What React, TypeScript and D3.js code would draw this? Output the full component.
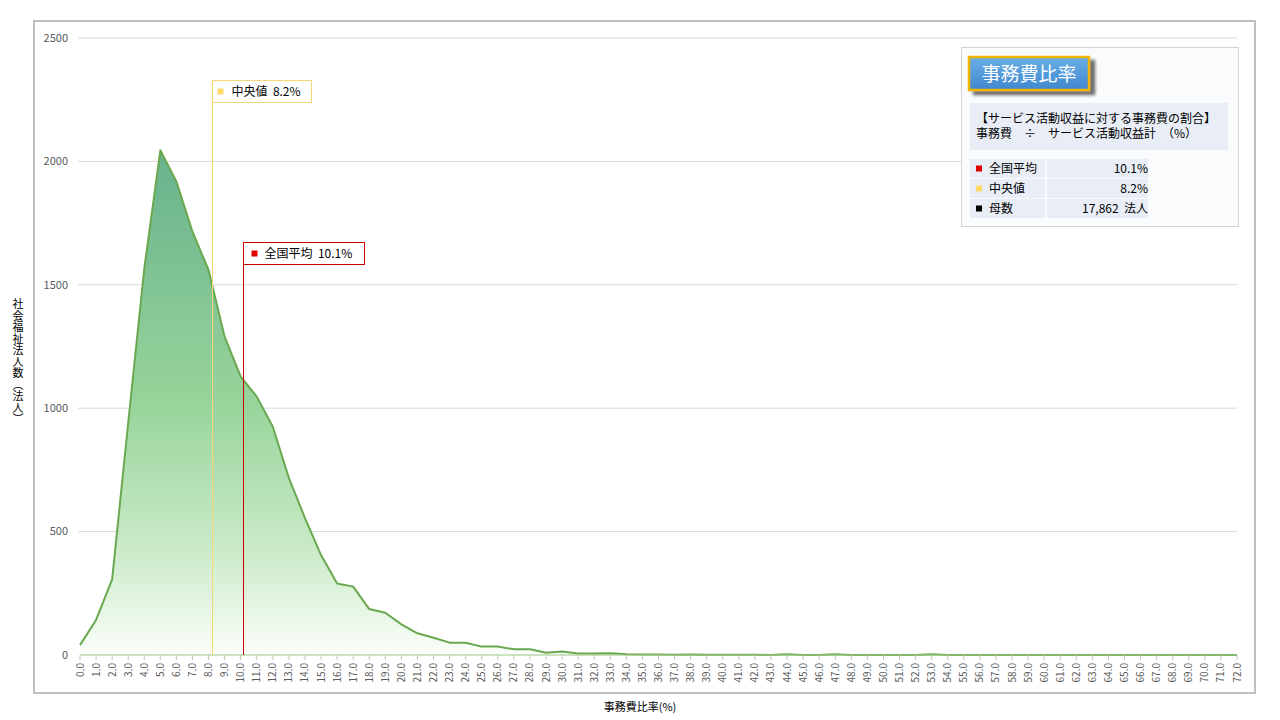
import React from "react";
import * as d3 from "d3";

const categories: string[] = [
  "0.0","1.0","2.0","3.0","4.0","5.0","6.0","7.0","8.0","9.0",
  "10.0","11.0","12.0","13.0","14.0","15.0","16.0","17.0","18.0","19.0",
  "20.0","21.0","22.0","23.0","24.0","25.0","26.0","27.0","28.0","29.0",
  "30.0","31.0","32.0","33.0","34.0","35.0","36.0","37.0","38.0","39.0",
  "40.0","41.0","42.0","43.0","44.0","45.0","46.0","47.0","48.0","49.0",
  "50.0","51.0","52.0","53.0","54.0","55.0","56.0","57.0","58.0","59.0",
  "60.0","61.0","62.0","63.0","64.0","65.0","66.0","67.0","68.0","69.0",
  "70.0","71.0","72.0",
];

const counts: number[] = [
  40, 142, 306, 940, 1565, 2045, 1918, 1715, 1560, 1290,
  1128, 1047, 925, 717, 555, 405, 290, 277, 186, 171,
  124, 88, 70, 50, 50, 34, 34, 23, 23, 9,
  14, 6, 6, 7, 3, 2, 2, 1, 2, 1,
  1, 1, 1, 0, 3, 0, 0, 3, 0, 0,
  0, 0, 0, 3, 0, 0, 0, 0, 0, 0,
  0, 0, 0, 0, 0, 0, 0, 0, 0, 0,
  0, 0, 0,
];

const yTicks: number[] = [0, 500, 1000, 1500, 2000, 2500];

const meanValue = 10.1;
const medianValue = 8.2;
const populationLabel = "17,862  法人";

const chartTitle = "事務費比率";
const descLines: string[] = ["【サービス活動収益に対する事務費の割合】", "事務費　÷　サービス活動収益計　（%）"];
const legendRows: { label: string; value: string; color: string }[] = [
  { label: "全国平均", value: "10.1%", color: "#e00000" },
  { label: "中央値", value: "8.2%", color: "#ffd966" },
  { label: "母数", value: populationLabel, color: "#000000" },
];

const FONT = "'Noto Sans CJK JP', 'Noto Sans', sans-serif";
const PRE = { whiteSpace: "pre" } as React.CSSProperties;

export default function App() {
  const x = d3.scalePoint<string>().domain(categories).range([80, 1237]);
  const y = d3.scaleLinear().domain([0, 2500]).range([655, 38]);
  const xNum = d3.scaleLinear().domain([0, 72]).range([80, 1237]);

  const pts = categories.map((c, i) => ({ c, v: counts[i] }));
  const area = d3
    .area<{ c: string; v: number }>()
    .x((d) => x(d.c) as number)
    .y0(y(0))
    .y1((d) => y(d.v));
  const line = d3
    .line<{ c: string; v: number }>()
    .x((d) => x(d.c) as number)
    .y((d) => y(d.v));

  const xMed = Math.round(xNum(medianValue)) + 0.5;
  const xMean = Math.round(xNum(meanValue)) + 1.5;
  const peak = d3.max(counts) as number;

  return (
    <svg
      width={1280}
      height={720}
      style={{ position: "absolute", left: 0, top: 0, background: "#fff" }}
      fontFamily={FONT}
    >
      <defs>
        <linearGradient id="areaGrad" gradientUnits="userSpaceOnUse" x1={0} x2={0} y1={y(peak)} y2={y(0)}>
          <stop offset="0" stopColor="#68b28c" />
          <stop offset="0.5" stopColor="#97d49b" />
          <stop offset="0.8" stopColor="#cdebca" />
          <stop offset="1" stopColor="#fbfefa" />
        </linearGradient>
        <linearGradient id="btnGrad" x1="0" x2="0" y1="0" y2="1">
          <stop offset="0" stopColor="#6aaee6" />
          <stop offset="1" stopColor="#3f87cf" />
        </linearGradient>
        <filter id="btnShadow" x="-20%" y="-20%" width="150%" height="160%">
          <feDropShadow dx="5" dy="4" stdDeviation="1.5" floodColor="#333" floodOpacity="0.7" />
        </filter>
      </defs>

      {/* outer frame */}
      <rect x={34} y={21} width={1221} height={672} fill="#fff" stroke="#bfbfbf" strokeWidth={2} />

      {/* grid + y labels */}
      {yTicks.map((t) => (
        <g key={t}>
          {t > 0 && <line x1={78} x2={1237} y1={y(t)} y2={y(t)} stroke="#d9d9d9" strokeWidth={1} />}
          <text x={68} y={y(t)} dy="0.35em" textAnchor="end" fontSize={11} fill="#595959">
            {t}
          </text>
        </g>
      ))}

      {/* area + line */}
      <path d={area(pts) as string} fill="url(#areaGrad)" />
      <path d={line(pts) as string} fill="none" stroke="#6aa84f" strokeWidth={2} strokeLinejoin="round" />

      {/* x axis */}
      <line x1={80} x2={1237} y1={655} y2={655} stroke="#9cc583" strokeWidth={1} />
      {categories.map((c) => (
        <g key={c}>
          <line x1={x(c)} x2={x(c)} y1={655} y2={660} stroke="#b9cfa8" strokeWidth={1} />
          <text
            transform={`translate(${x(c)},663) rotate(-90)`}
            textAnchor="end"
            dy="0.35em"
            fontSize={10}
            fill="#595959"
          >
            {c}
          </text>
        </g>
      ))}

      {/* axis titles */}
      <text x={640} y={711} textAnchor="middle" fontSize={11} fill="#000">
        事務費比率(%)
      </text>
      <text
        x={18}
        y={362}
        textAnchor="middle"
        fontSize={11}
        fill="#000"
        letterSpacing={0.5}
        style={{ writingMode: "vertical-rl" } as React.CSSProperties}
      >
        社会福祉法人数（法人）
      </text>

      {/* median marker */}
      <line x1={xMed} x2={xMed} y1={80} y2={655} stroke="#f5d77a" strokeWidth={1} />
      <rect x={xMed} y={80.5} width={99} height={22} fill="#fff" stroke="#f5d77a" strokeWidth={1} />
      <rect x={xMed + 5} y={88.5} width={6} height={6} fill="#ffd966" />
      <text x={xMed + 19} y={92} dy="0.35em" fontSize={12} fill="#000" style={PRE}>
        {"中央値  8.2%"}
      </text>

      {/* mean marker */}
      <line x1={xMean} x2={xMean} y1={242} y2={655} stroke="#cc0000" strokeWidth={1} />
      <rect x={xMean} y={242.5} width={121} height={22} fill="#fff" stroke="#cc0000" strokeWidth={1} />
      <rect x={xMean + 8} y={250.5} width={6} height={6} fill="#e00000" />
      <text x={xMean + 21} y={254} dy="0.35em" fontSize={12} fill="#000" style={PRE}>
        {"全国平均  10.1%"}
      </text>

      {/* legend panel */}
      <rect x={961.5} y={47.5} width={277} height={179} fill="#fafbfc" stroke="#d4d4d4" strokeWidth={1} />
      <g filter="url(#btnShadow)">
        <rect x={969} y={57} width={120} height={33} fill="url(#btnGrad)" stroke="#f2b600" strokeWidth={2.5} />
      </g>
      <text x={1029} y={74} dy="0.35em" textAnchor="middle" fontSize={19} fill="#fff">
        {chartTitle}
      </text>

      <rect x={970} y={103} width={258} height={47} fill="#e8edf6" />
      {descLines.map((l, i) => (
        <text key={i} x={976} y={119 + i * 15} dy="0.35em" fontSize={12} fill="#000" style={PRE}>
          {l}
        </text>
      ))}

      {legendRows.map((r, i) => {
        const ry = 159 + i * 20;
        return (
          <g key={r.label}>
            <rect x={970} y={ry} width={75} height={19} fill="#e9eef6" />
            <rect x={1047} y={ry} width={101} height={19} fill="#e9eef6" />
            <rect x={976} y={ry + 6.5} width={6} height={6} fill={r.color} />
            <text x={989} y={ry + 9.5} dy="0.35em" fontSize={12} fill="#000">
              {r.label}
            </text>
            <text x={1148} y={ry + 9.5} dy="0.35em" fontSize={12} fill="#000" textAnchor="end" style={PRE}>
              {r.value}
            </text>
          </g>
        );
      })}
    </svg>
  );
}
